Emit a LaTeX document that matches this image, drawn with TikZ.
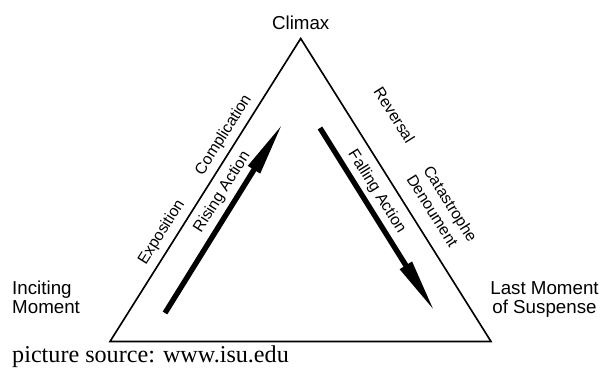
\documentclass[tikz,border=0pt]{standalone}
\usepackage{fontspec}
\setmainfont{Liberation Serif}
\setsansfont{Liberation Sans}
\usetikzlibrary{arrows.meta,calc}

\tikzset{
  cornerlbl/.style={font=\sffamily\fontsize{16}{15.5}\selectfont, inner sep=0pt},
  sidelbl/.style={font=\sffamily\fontsize{13.5}{16}\selectfont, sloped, inner sep=0pt,
    text height=9.7pt, text depth=2.8pt},
  actionarrow/.style={line width=4.6pt, -{Triangle[length=1.65cm,width=0.39cm]}}
}

\begin{document}
\begin{tikzpicture}[x=0.03cm, y=-0.03cm]
  \useasboundingbox (0,0) rectangle (601,367);
  % corners of the plot triangle
  \coordinate (inc) at (110,341.5);
  \coordinate (clx) at (300.7,38.5);
  \coordinate (lms) at (491,341.5);
  \draw[line width=1.4pt, line join=miter] (inc) -- (clx) -- (lms) -- cycle;

  % captions at the corners
  \node[cornerlbl, anchor=base] (climax) at (300.7,30) {Climax};
  \node[cornerlbl, anchor=base west, align=left] (inciting) at (12,313) {Inciting\\Moment};
  \node[cornerlbl, anchor=base, align=center] (lastmoment) at (544.5,313) {Last Moment\\of Suspense};

  % rising and falling action
  \coordinate (rise0) at (165,313);
  \coordinate (rise1) at (283,123);
  \coordinate (fall0) at (320,128);
  \coordinate (fall1) at (435,312);
  \draw[actionarrow] (rise0) -- (rise1);
  \draw[actionarrow] (fall0) -- (fall1);

  % stages along the two sides
  \path (inc) -- (clx)
    node[sidelbl, pos=.335, above=5.7pt] (expo) {Exposition}
    node[sidelbl, pos=.657, above=5.1pt] (compl) {Complication}
    node[sidelbl, pos=.52, below=6.9pt] (rising) {Rising Action};
  \path (clx) -- (lms)
    node[sidelbl, pos=.32, above=25.3pt] (rev) {Reversal}
    node[sidelbl, pos=.614, above=25.5pt] (cata) {Catastrophe}
    node[sidelbl, pos=.604, above=9.3pt] (denou) {Denoument}
    node[sidelbl, pos=.476, below=8.3pt] (falling) {Falling Action};

  \node[font=\rmfamily\fontsize{20.6}{22}\selectfont, anchor=base west, inner sep=0pt] (source)
    at (12,362) {picture source: www.isu.edu};
\end{tikzpicture}
\end{document}
